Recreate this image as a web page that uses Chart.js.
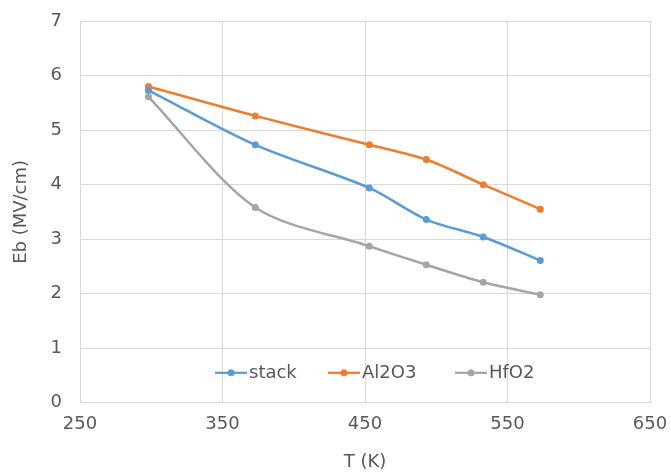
<!DOCTYPE html>
<html>
<head>
<meta charset="utf-8">
<script src="https://cdn.jsdelivr.net/npm/chart.js@4"></script>
<style>
  html, body { margin: 0; padding: 0; background: #fff; }
  #wrap { width: 671px; height: 476px; }
</style>
</head>
<body>
<div id="wrap"><canvas id="ebChart"></canvas></div>
<script>
const temps = [298, 373, 453, 493, 533, 573];
const stackVals = [5.73, 4.73, 3.94, 3.36, 3.04, 2.61];
const al2o3Vals = [5.80, 5.26, 4.73, 4.46, 4.00, 3.55];
const hfo2Vals = [5.61, 3.58, 2.87, 2.53, 2.21, 1.98];
const seriesNames = ['stack', 'Al2O3', 'HfO2'];
const seriesColors = ['#5B9BD5', '#ED7D31', '#A5A5A5'];

const FONT = '"DejaVu Sans", sans-serif';
const TEXT = '#595959';

const toPoints = vals => vals.map((v, i) => ({ x: temps[i], y: v }));

// legend drawn inside the plot, near the bottom (like the Excel original)
const innerLegend = {
    id: 'innerLegend',
    afterDraw(chart) {
        const ctx = chart.ctx;
        const y = chart.scales.y.getPixelForValue(0.55);
        const starts = [215, 328, 455];
        ctx.save();
        ctx.font = '18px ' + FONT;
        ctx.textBaseline = 'middle';
        chart.data.datasets.forEach((ds, i) => {
            const x0 = starts[i];
            ctx.strokeStyle = ds.borderColor;
            ctx.lineWidth = 2.25;
            ctx.beginPath();
            ctx.moveTo(x0, y);
            ctx.lineTo(x0 + 32, y);
            ctx.stroke();
            ctx.fillStyle = ds.borderColor;
            ctx.beginPath();
            ctx.arc(x0 + 16, y, 3.5, 0, Math.PI * 2);
            ctx.fill();
            ctx.fillStyle = TEXT;
            ctx.fillText(ds.label, x0 + 34, y + 1);
        });
        ctx.restore();
    }
};

const ctx = document.getElementById('ebChart').getContext('2d');
new Chart(ctx, {
    type: 'line',
    data: {
        datasets: seriesNames.map((name, i) => ({
            label: name,
            data: toPoints([stackVals, al2o3Vals, hfo2Vals][i]),
            borderColor: seriesColors[i],
            backgroundColor: seriesColors[i],
            borderWidth: 2.5,
            pointRadius: 3.5,
            pointBorderWidth: 0,
            tension: 0.3
        }))
    },
    options: {
        responsive: true,
        maintainAspectRatio: false,
        animation: false,
        layout: { padding: { top: 0, right: 0, left: 6, bottom: 3 } },
        scales: {
            x: {
                type: 'linear',
                min: 250,
                max: 650,
                afterFit: s => { s.paddingRight = 21; },
                ticks: { stepSize: 100, color: TEXT, font: { size: 18, family: FONT }, padding: 11 },
                grid: { color: '#D9D9D9', drawTicks: false },
                border: { color: '#D9D9D9' },
                title: { display: true, text: 'T (K)', color: TEXT, font: { size: 18, family: FONT }, padding: { top: 5, bottom: 0 } }
            },
            y: {
                min: 0,
                max: 7,
                afterFit: s => { s.paddingTop = 21; },
                ticks: { stepSize: 1, color: TEXT, font: { size: 18, family: FONT }, padding: 18 },
                grid: { color: '#D9D9D9', drawTicks: false },
                border: { color: '#D9D9D9' },
                title: { display: true, text: 'Eb (MV/cm)', color: TEXT, font: { size: 18, family: FONT }, padding: { top: 5, bottom: 0 } }
            }
        },
        plugins: {
            legend: { display: false },
            tooltip: { enabled: false }
        }
    },
    plugins: [innerLegend]
});
</script>
</body>
</html>
